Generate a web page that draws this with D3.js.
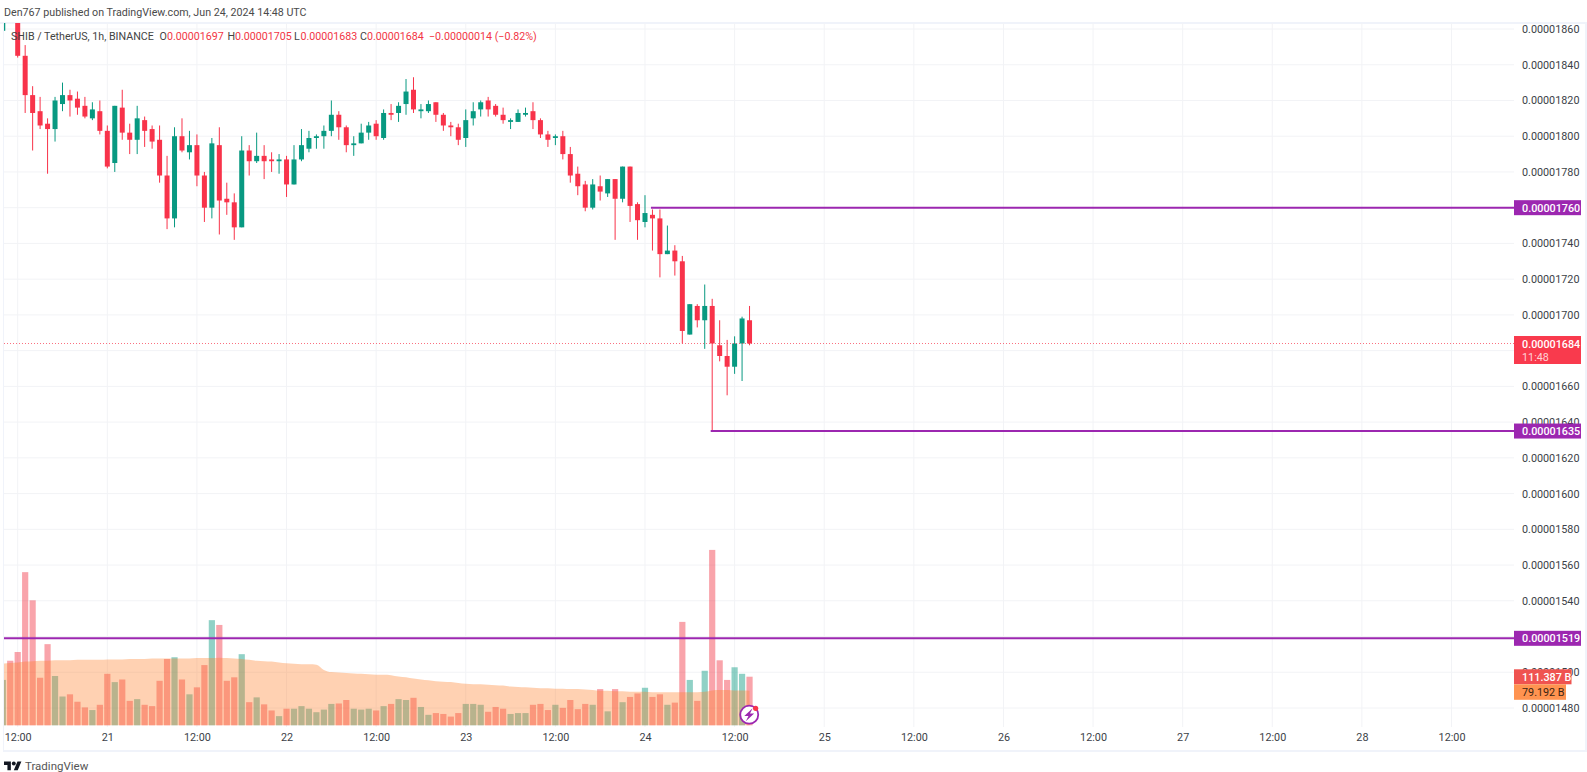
<!DOCTYPE html>
<html><head><meta charset="utf-8">
<script src="https://cdn.jsdelivr.net/npm/d3@7"></script>
<style>html,body{margin:0;padding:0;background:#fff;overflow:hidden}svg{display:block}text{font-family:Roboto,sans-serif}</style>
</head><body><svg id="c" width="1587" height="772"></svg>
<script>
// Prices in units of 0.00000001 USDT; volumes in billions. Bars run from index -2 (hour index 0 = Jun 20 12:00).
const firstIndex = -2;
const opens  = [1859,1900,1880,1845,1823,1814,1807,1804,1818,1823,1821,1817,1810,1814,1803,1785,1816,1802,1798,1809,1804,1798,1778,1754,1800,1791,1795,1778,1760,1795,1765,1763,1749,1792,1786,1789,1787,1786,1787,1773,1787,1793,1799,1800,1803,1812,1805,1795,1796,1802,1807,1799,1813,1813,1818,1826,1814,1814,1819,1812,1806,1805,1799,1810,1815,1820,1817,1812,1808,1808,1812,1814,1809,1801,1799,1800,1790,1779,1773,1760,1772,1768,1776,1765,1783,1762,1752,1756,1754,1734,1736,1730,1689,1705,1697,1705,1683,1677,1671,1684,1697];
const highs  = [1885,1905,1885,1851,1828,1822,1810,1822,1830,1826,1825,1822,1819,1820,1806,1817,1826,1807,1817,1811,1806,1806,1789,1805,1810,1803,1801,1780,1799,1805,1774,1768,1800,1795,1802,1795,1791,1790,1789,1795,1804,1803,1801,1806,1820,1814,1806,1800,1807,1808,1809,1815,1818,1819,1832,1833,1818,1820,1819,1813,1808,1807,1815,1819,1820,1822,1818,1816,1810,1815,1816,1819,1810,1803,1801,1803,1794,1783,1775,1776,1778,1776,1776,1783,1783,1763,1767,1759,1759,1750,1739,1733,1706,1706,1717,1709,1697,1686,1688,1699,1705];
const lows   = [1857,1880,1844,1813,1792,1804,1779,1797,1814,1811,1812,1810,1809,1801,1782,1780,1798,1790,1790,1794,1793,1774,1748,1749,1791,1787,1772,1752,1754,1745,1756,1742,1749,1778,1785,1776,1780,1779,1766,1773,1786,1791,1793,1793,1800,1798,1791,1789,1796,1798,1798,1798,1809,1808,1812,1813,1810,1813,1808,1803,1800,1795,1794,1806,1811,1811,1811,1807,1804,1808,1811,1804,1799,1794,1795,1787,1774,1767,1758,1759,1764,1766,1742,1763,1752,1742,1749,1736,1721,1734,1722,1684,1689,1693,1681,1635,1674,1655,1667,1663,1683];
const closes = [1880,1885,1845,1823,1813,1806,1804,1820,1823,1820,1816,1811,1815,1803,1783,1817,1802,1798,1810,1803,1797,1778,1754,1800,1792,1795,1778,1760,1796,1764,1763,1749,1792,1786,1789,1786,1786,1787,1773,1787,1795,1799,1800,1803,1812,1805,1795,1796,1802,1806,1800,1813,1812,1817,1825,1815,1815,1818,1812,1806,1805,1798,1809,1814,1819,1815,1812,1809,1809,1813,1813,1809,1801,1798,1800,1790,1778,1772,1760,1773,1769,1776,1765,1783,1761,1753,1757,1754,1734,1736,1730,1691,1706,1697,1705,1684,1677,1671,1684,1698,1684];
const volumes = [104,148,168,351,286.5,109,186,113,66,71,54,41,35,47,118,99,105,56,60,47,44,102,152,156,105,71,87,138,241,230,102,110,163,53,64,48,34,21,38,38,44,38,30,36,49,50,58,38,36,38,34,44,49,60,58,63,42,24,28,26,20,28,49,49,47,31,42,38,26,28,28,47,49,35,47,40,58,37,49,47,83,32,83,53,65,73,86,65,71,47,52,237,104,56,125,402,149,104,133,118,111.387];
const volumeMA = [141,143,144,146,147,148,148,149,149,149,150,150,150,150,151,151,151,152,152,152,153,153,153,153,153,153,154,154,154,155,154,153,152,150,148,147,146,144,142,141,140,140,139,127,122,121,120,119,118,117,116,116,115,112,110,107,105,103,101,100,99,97,95,94,94,93,92,91,89,88,87,86,85,85,84,84,83,83,82,81,79,79,78,78,77,77,77,76,76,76,76,76,76,76,77,80,81,81,80,80,79.192];
const priceTicks = [1860,1840,1820,1800,1780,1760,1740,1720,1700,1680,1660,1640,1620,1600,1580,1560,1540,1520,1500,1480];
const timeTickIndex = [0,12,24,36,48,60,72,84,96,108,120,132,144,156,168,180,192];
const timeTickLabels = ["12:00","21","12:00","22","12:00","23","12:00","24","12:00","25","12:00","26","12:00","27","12:00","28","12:00"];
const levelPrices = [1760,1635,1519];
const levelStartIndex = [85,93,null];
const legendParts = [["SHIB / TetherUS, 1h, BINANCE",11,"#444"],["O",159.5,"#444"],["0.00001697",167,"#F23645"],["H",227.5,"#444"],["0.00001705",235,"#F23645"],["L",294,"#444"],["0.00001683",300.5,"#F23645"],["C",360,"#444"],["0.00001684",367,"#F23645"],["\u22120.00000014 (\u22120.82%)",429,"#F23645"]];

const RED="#F8334A", GREEN="#089981", PURPLE="#9C27B0";
const paneL=4, paneR=1514, paneT=23, paneB=727;
const svg=d3.select("#c");
const x=d3.scaleLinear().domain([0,192]).range([17.7,1451.5]);
const y=d3.scaleLinear().domain([1860,1480]).range([29,708]);
const vy=d3.scaleLinear().domain([0,402]).range([725.3,725.3-402*0.4363]);
const fmt=v=>(v*1e-8).toFixed(8);

svg.append("defs").append("clipPath").attr("id","pane").append("rect")
  .attr("x",paneL).attr("y",paneT).attr("width",paneR-paneL).attr("height",paneB-paneT);

// frame
svg.append("rect").attr("x",0).attr("y",22).attr("width",1587).attr("height",2).attr("fill","#F0F3FA");
svg.append("rect").attr("x",3).attr("y",22).attr("width",1).attr("height",728).attr("fill","#F0F3FA");
svg.append("rect").attr("x",1585).attr("y",22).attr("width",2).attr("height",729).attr("fill","#F0F3FA");
svg.append("rect").attr("x",3).attr("y",750).attr("width",1584).attr("height",2).attr("fill","#F0F3FA");
svg.append("text").attr("x",4).attr("y",16).attr("font-size",10.7).attr("fill","#4a4a4a")
  .text("Den767 published on TradingView.com, Jun 24, 2024 14:48 UTC");

// grid
const grid=svg.append("g");
grid.selectAll("line.h").data(priceTicks).join("line").attr("class","h")
  .attr("x1",paneL).attr("x2",paneR).attr("y1",d=>y(d)).attr("y2",d=>y(d)).attr("stroke","#F2F3F6");
grid.selectAll("line.v").data(timeTickIndex).join("line").attr("class","v")
  .attr("y1",paneT).attr("y2",paneB).attr("x1",d=>x(d)).attr("x2",d=>x(d)).attr("stroke","#F2F3F6");

const bars=d3.range(opens.length).map(k=>({i:k+firstIndex,o:opens[k],h:highs[k],l:lows[k],c:closes[k],v:volumes[k],ma:volumeMA[k]}));
const plot=svg.append("g").attr("clip-path","url(#pane)");

// volume
plot.selectAll("rect.vol").data(bars).join("rect").attr("class","vol")
  .attr("x",d=>x(d.i)-3.1).attr("width",6.2).attr("y",d=>vy(d.v)).attr("height",d=>vy(0)-vy(d.v))
  .attr("fill",d=>d.c>=d.o?GREEN:"#F23645").attr("fill-opacity",.45);
const area=d3.area().x(d=>x(d.i)).y0(vy(0)).y1(d=>vy(d.ma)).curve(d3.curveMonotoneX);
plot.append("path").datum(bars).attr("d",area).attr("fill","#FF7F2A").attr("fill-opacity",.36);

// candles
plot.selectAll("line.wick").data(bars).join("line").attr("class","wick")
  .attr("x1",d=>x(d.i)).attr("x2",d=>x(d.i)).attr("y1",d=>y(d.h)).attr("y2",d=>y(d.l))
  .attr("stroke",d=>d.c>=d.o?GREEN:RED).attr("stroke-width",1);
plot.selectAll("rect.body").data(bars).join("rect").attr("class","body")
  .attr("x",d=>x(d.i)-2.5).attr("width",5)
  .attr("y",d=>y(Math.max(d.o,d.c))).attr("height",d=>Math.max(1.5,Math.abs(y(d.o)-y(d.c))))
  .attr("fill",d=>d.c>=d.o?GREEN:RED);

// last price dotted line
const lastClose=closes[closes.length-1];
const lastY=Math.round(y(lastClose))+.5;
svg.append("line").attr("x1",paneL).attr("x2",paneR).attr("y1",lastY).attr("y2",lastY)
  .attr("stroke",RED).attr("stroke-opacity",.7).attr("stroke-dasharray","1 2");

// level lines
svg.selectAll("line.level").data(levelPrices).join("line").attr("class","level")
  .attr("x1",(d,k)=>levelStartIndex[k]===null?paneL:x(levelStartIndex[k])-1.5).attr("x2",paneR)
  .attr("y1",d=>y(d)).attr("y2",d=>y(d)).attr("stroke",PURPLE).attr("stroke-width",2);

// legend
svg.selectAll("text.leg").data(legendParts).join("text").attr("class","leg")
  .attr("x",d=>d[1]).attr("y",40).attr("font-size",10.7).attr("fill",d=>d[2]).text(d=>d[0]);

// price axis
const pAxis=svg.append("g").attr("transform",`translate(1516,0)`)
  .call(d3.axisRight(y).tickValues(priceTicks).tickFormat(fmt).tickSize(0).tickPadding(6));
pAxis.select(".domain").remove();
pAxis.selectAll("text").attr("font-size",10.8).attr("fill","#3c3f48").attr("font-family","Roboto,sans-serif");

// time axis
const tAxis=svg.append("g").attr("transform",`translate(0,729)`)
  .call(d3.axisBottom(x).tickValues(timeTickIndex).tickFormat((d,k)=>timeTickLabels[k]).tickSize(0).tickPadding(4));
tAxis.select(".domain").remove();
tAxis.selectAll("text").attr("font-size",10.8).attr("fill","#3c3f48").attr("font-family","Roboto,sans-serif");

// badges
function badge(yTop,h,w,fill,lines){
  const g=svg.append("g");
  g.append("rect").attr("x",1514).attr("y",yTop).attr("width",w).attr("height",h).attr("fill",fill);
  lines.forEach(l=>g.append("text").attr("x",1522).attr("y",l.y).attr("font-size",10.8).attr("fill",l.c).attr("font-weight",l.w||400).text(l.t));
}
levelPrices.forEach(p=>badge(y(p)-7.5,15,67,PURPLE,[{t:fmt(p),y:y(p)+4,c:"#fff",w:500}]));
badge(336,28,67,"#F93A4D",[{t:fmt(lastClose),y:347.5,c:"#fff",w:500},{t:"11:48",y:361,c:"#FFD2D6"}]);
badge(669.3,15,57.5,"#EF5350",[{t:"111.387 B",y:680.7,c:"#fff",w:500}]);
badge(684.3,15.5,52,"#FF9350",[{t:"79.192 B",y:696,c:"#3a2412"}]);

// lightning marker
const cx=x(98)-.3, cy=714.7;
const mark=svg.append("g");
mark.append("circle").attr("cx",cx).attr("cy",cy).attr("r",9).attr("fill","#fff").attr("stroke",PURPLE).attr("stroke-width",1.8);
mark.append("path").attr("transform",`translate(${cx},${cy}) scale(1.3)`).attr("d","M2.6,-5 L-3.8,1 L-0.6,1 L-2.6,5 L3.8,-1 L0.6,-1 Z").attr("fill",PURPLE);
mark.append("circle").attr("cx",cx+6.4).attr("cy",cy-6.4).attr("r",2.6).attr("fill","#F8334A");

// logo
const logo=svg.append("g").attr("transform","translate(4,759.5) scale(.49)").attr("fill","#131722");
logo.append("path").attr("d","M14 22H7V11H0V4h14v18zM28 22h-8l7.5-18h8L28 22z");
logo.append("circle").attr("cx",20).attr("cy",8).attr("r",4);
svg.append("text").attr("x",25).attr("y",770).attr("font-size",11.5).attr("fill","#555").text("TradingView");
</script></body></html>
